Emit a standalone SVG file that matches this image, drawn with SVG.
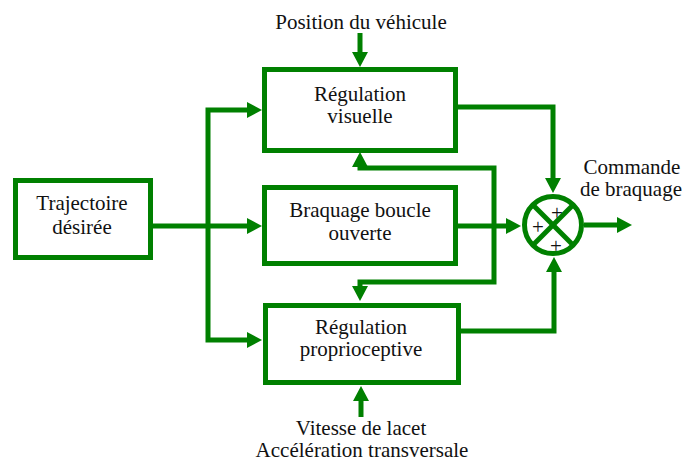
<svg xmlns="http://www.w3.org/2000/svg" width="683" height="462" viewBox="0 0 683 462">
  <style>
    .box { fill: #ffffff; stroke: #008000; stroke-width: 5; }
    .wire { fill: none; stroke: #008000; stroke-width: 5; stroke-linejoin: miter; }
    text { font-family: 'Liberation Serif', Tinos, 'Times New Roman', 'DejaVu Serif', serif; font-size: 21px; fill: #111111; text-anchor: middle; }
  </style>
  <defs>
    <marker id="head" viewBox="0 0 15 16" refX="0" refY="8" markerWidth="15" markerHeight="16" markerUnits="userSpaceOnUse" orient="auto-start-reverse">
      <path d="M0,0 L15,8 L0,16 z" fill="#008000"/>
    </marker>
  </defs>

  <rect width="683" height="462" fill="#ffffff"/>

  <!-- connectors -->
  <g id="connectors">
    <!-- vehicle position into visual regulation -->
    <path class="wire" d="M360,33 V52" marker-end="url(#head)"/>
    <!-- desired trajectory fan-out -->
    <path class="wire" d="M152,226 H247" marker-end="url(#head)"/>
    <path class="wire" d="M247,110 H208 V340 H247" marker-start="url(#head)" marker-end="url(#head)"/>
    <!-- block outputs into the summing junction -->
    <path class="wire" d="M458,107 H553 V178" marker-end="url(#head)"/>
    <path class="wire" d="M458,226 H506" marker-end="url(#head)"/>
    <path class="wire" d="M461,331 H554 V272" marker-end="url(#head)"/>
    <!-- coupling between the two regulators -->
    <path class="wire" d="M360,167 V168 H494 V282 H360 V286" marker-start="url(#head)" marker-end="url(#head)"/>
    <!-- yaw rate / lateral acceleration into proprioceptive regulation -->
    <path class="wire" d="M361,417 V401" marker-end="url(#head)"/>
    <!-- steering command output -->
    <path class="wire" d="M584,225 H617" marker-end="url(#head)"/>
  </g>

  <g id="trajectoire">
    <rect class="box" x="15.5" y="180.5" width="135" height="77"/>
    <text x="82" y="210">Trajectoire</text>
    <text x="82" y="234">désirée</text>
  </g>

  <g id="regulation-visuelle">
    <rect class="box" x="264.5" y="69.5" width="191" height="81"/>
    <text x="360" y="101">Régulation</text>
    <text x="360" y="123">visuelle</text>
  </g>

  <g id="braquage-boucle-ouverte">
    <rect class="box" x="264.5" y="187.5" width="191" height="76"/>
    <text x="360" y="217">Braquage boucle</text>
    <text x="360" y="240">ouverte</text>
  </g>

  <g id="regulation-proprioceptive">
    <rect class="box" x="265.5" y="305.5" width="193" height="77"/>
    <text x="361" y="334">Régulation</text>
    <text x="361" y="356">proprioceptive</text>
  </g>

  <g id="sommateur">
    <circle cx="553" cy="225" r="28.5" fill="#ffffff" stroke="#008000" stroke-width="5"/>
    <line x1="533" y1="205" x2="573" y2="245" stroke="#008000" stroke-width="5"/>
    <line x1="573" y1="205" x2="533" y2="245" stroke="#008000" stroke-width="5"/>
    <text x="557" y="220">+</text>
    <text x="538" y="234">+</text>
    <text x="556" y="253">+</text>
  </g>

  <g id="entree-position">
    <text x="361" y="29">Position du véhicule</text>
  </g>

  <g id="sortie-commande">
    <text x="632" y="174">Commande</text>
    <text x="631" y="196">de braquage</text>
  </g>

  <g id="entree-capteurs">
    <text x="361" y="435">Vitesse de lacet</text>
    <text x="362" y="457">Accélération transversale</text>
  </g>
</svg>
